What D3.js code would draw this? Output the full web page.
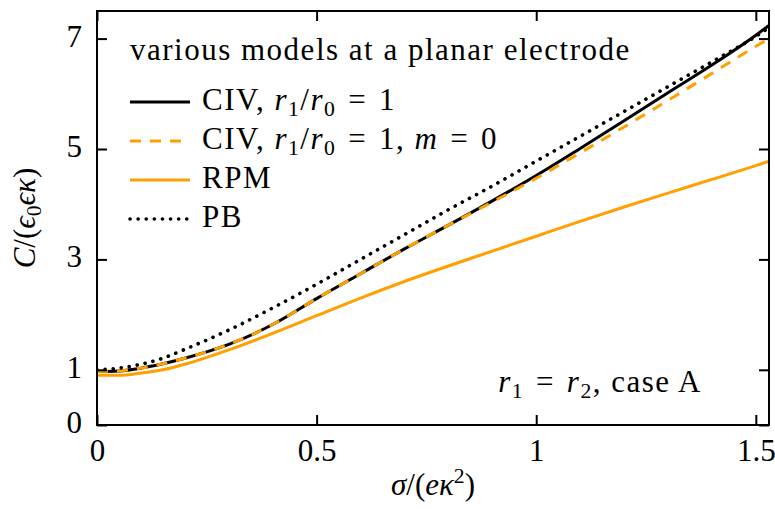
<!DOCTYPE html>
<html>
<head>
<meta charset="utf-8">
<script src="https://cdn.jsdelivr.net/npm/d3@7"></script>
<style>
  html, body { margin: 0; padding: 0; background: #fff; }
  svg { display: block; }
  text { font-family: "Liberation Serif", "DejaVu Serif", serif; fill: #000; }
</style>
</head>
<body>
<svg id="chart" width="775" height="509"></svg>
<script>
// Surface charge density sigma/(e kappa^2) at which each curve is sampled
const sigma = [0, 0.05, 0.1, 0.15, 0.2, 0.3, 0.4, 0.5, 0.6, 0.7, 0.8, 0.9, 1.0, 1.1, 1.2, 1.3, 1.4, 1.5, 1.53];

// Differential capacitance C/(eps0 eps kappa) for each model
const civ   = [0.97, 0.98, 1.03, 1.11, 1.21, 1.46, 1.82, 2.29, 2.74, 3.19, 3.62, 4.06, 4.52, 5.01, 5.51, 6.02, 6.52, 7.06, 7.24];
const civM0 = [0.97, 0.98, 1.03, 1.11, 1.21, 1.46, 1.82, 2.29, 2.74, 3.19, 3.62, 4.04, 4.47, 4.93, 5.40, 5.88, 6.37, 6.86, 7.00];
const rpm   = [0.90, 0.90, 0.94, 1.00, 1.10, 1.36, 1.66, 1.98, 2.30, 2.60, 2.88, 3.15, 3.42, 3.69, 3.95, 4.20, 4.45, 4.70, 4.78];
const pb    = [1.00, 1.03, 1.10, 1.21, 1.37, 1.72, 2.12, 2.55, 3.00, 3.45, 3.90, 4.33, 4.78, 5.23, 5.68, 6.13, 6.58, 7.04, 7.20];

const xTicks = [0, 0.5, 1, 1.5];
const yTicks = [0, 1, 3, 5, 7];
const xDomain = [0, 1.53];
const yDomain = [0, 7.5];

const ORANGE = "#ffa000";
const FS = 31;
const EQ = "\u2004=\u2004"; // equals sign with math-style spacing

const svg = d3.select("#chart");
const margin = { left: 97, right: 6, top: 11, bottom: 84 };
const W = 775, H = 509;

const x = d3.scaleLinear().domain(xDomain).range([margin.left, W - margin.right]);
const y = d3.scaleLinear().domain(yDomain).range([H - margin.bottom, margin.top]);

// Rich text helper: segments may be italic, subscript or superscript
function richText(sel, segs) {
  let shift = 0;
  segs.forEach(s => {
    const target = s.sub ? 6 : s.sup ? -12 : 0;
    const t = sel.append("tspan").text(s.t);
    if (target !== shift) t.attr("dy", target - shift);
    shift = target;
    if (s.i) t.attr("font-style", "italic");
    if (s.sub || s.sup) t.attr("font-size", FS * 0.7);
  });
  return sel;
}

// Curves
const line = d3.line().x(d => x(d[0])).y(d => y(d[1])).curve(d3.curveMonotoneX);
const DASH = "11,9", DOT = "0.1,8";
const series = [
  { vals: rpm,   color: ORANGE, dash: null, cap: "butt",  w: 3 },
  { vals: civ,   color: "#000", dash: null, cap: "butt",  w: 3 },
  { vals: civM0, color: ORANGE, dash: DASH, cap: "butt",  w: 3 },
  { vals: pb,    color: "#000", dash: DOT,  cap: "round", w: 3.6 }
];

svg.append("clipPath").attr("id", "plotclip")
  .append("rect")
  .attr("x", x(xDomain[0])).attr("y", y(yDomain[1]))
  .attr("width", x(xDomain[1]) - x(xDomain[0]))
  .attr("height", y(yDomain[0]) - y(yDomain[1]));

const plot = svg.append("g").attr("clip-path", "url(#plotclip)");
series.forEach(s => {
  plot.append("path")
    .datum(sigma.map((v, i) => [v, s.vals[i]]))
    .attr("d", line)
    .attr("fill", "none")
    .attr("stroke", s.color)
    .attr("stroke-width", s.w)
    .attr("stroke-linecap", s.cap)
    .attr("stroke-dasharray", s.dash);
});

// Axes with inward ticks on all four sides
const TICK = 10;
const gx = svg.append("g").attr("transform", `translate(0,${y(0)})`)
  .call(d3.axisBottom(x).tickValues(xTicks).tickFormat(d3.format("")).tickSizeInner(-TICK).tickSizeOuter(0).tickPadding(14));
const gxTop = svg.append("g").attr("transform", `translate(0,${y(yDomain[1])})`)
  .call(d3.axisTop(x).tickValues(xTicks).tickFormat("").tickSizeInner(-TICK).tickSizeOuter(0));
const gy = svg.append("g").attr("transform", `translate(${x(0)},0)`)
  .call(d3.axisLeft(y).tickValues(yTicks).tickFormat(d3.format("")).tickSizeInner(-TICK).tickSizeOuter(0).tickPadding(15));
const gyRight = svg.append("g").attr("transform", `translate(${x(xDomain[1])},0)`)
  .call(d3.axisRight(y).tickValues(yTicks).tickFormat("").tickSizeInner(-TICK).tickSizeOuter(0));

[gx, gxTop, gy, gyRight].forEach(g => {
  g.select(".domain").remove();
  g.selectAll(".tick line").attr("stroke", "#000").attr("stroke-width", 2);
  g.selectAll(".tick text")
    .attr("font-family", "'Liberation Serif', 'DejaVu Serif', serif")
    .attr("font-size", FS).attr("fill", "#000");
});
gy.selectAll(".tick text").attr("dy", "0.24em");

// Plot frame
svg.append("rect")
  .attr("x", x(xDomain[0])).attr("y", y(yDomain[1]))
  .attr("width", x(xDomain[1]) - x(xDomain[0]))
  .attr("height", y(yDomain[0]) - y(yDomain[1]))
  .attr("fill", "none").attr("stroke", "#000").attr("stroke-width", 2);

// Axis titles
richText(svg.append("text")
  .attr("x", (x(xDomain[0]) + x(xDomain[1])) / 2).attr("y", 495)
  .attr("text-anchor", "middle").attr("font-size", FS),
  [{ t: "σ", i: true }, { t: "/(" }, { t: "eκ", i: true }, { t: "2", sup: true }, { t: ")" }]);

richText(svg.append("text")
  .attr("transform", `translate(35,${(y(0) + y(yDomain[1])) / 2}) rotate(-90)`)
  .attr("text-anchor", "middle").attr("font-size", FS),
  [{ t: "C", i: true }, { t: "/(" }, { t: "ϵ", i: true }, { t: "0", sub: true }, { t: "ϵκ", i: true }, { t: ")" }]);

// Legend
const LS = 1.5; // letter spacing for running text
svg.append("text").attr("x", 130).attr("y", 60).attr("font-size", FS)
  .attr("letter-spacing", LS)
  .text("various models at a planar electrode");

const legend = [
  { color: "#000", dash: null, cap: "butt", w: 3,
    segs: [{ t: "CIV, " }, { t: "r", i: true }, { t: "1", sub: true }, { t: "/" }, { t: "r", i: true }, { t: "0", sub: true }, { t: EQ + "1" }] },
  { color: ORANGE, dash: DASH, cap: "butt", w: 3,
    segs: [{ t: "CIV, " }, { t: "r", i: true }, { t: "1", sub: true }, { t: "/" }, { t: "r", i: true }, { t: "0", sub: true }, { t: EQ + "1, " }, { t: "m", i: true }, { t: EQ + "0" }] },
  { color: ORANGE, dash: null, cap: "butt", w: 3, segs: [{ t: "RPM" }] },
  { color: "#000", dash: DOT, cap: "round", w: 3.6, segs: [{ t: "PB" }] }
];
legend.forEach((L, i) => {
  const ly = 102 + i * 39;
  svg.append("line")
    .attr("x1", 130).attr("x2", 190).attr("y1", ly).attr("y2", ly)
    .attr("stroke", L.color).attr("stroke-width", L.w)
    .attr("stroke-linecap", L.cap).attr("stroke-dasharray", L.dash);
  richText(svg.append("text").attr("x", 202).attr("y", ly + 8)
    .attr("font-size", FS).attr("letter-spacing", LS), L.segs);
});

// Annotation
richText(svg.append("text").attr("x", 702).attr("y", 392)
  .attr("text-anchor", "end").attr("font-size", FS).attr("letter-spacing", LS),
  [{ t: "r", i: true }, { t: "1", sub: true }, { t: EQ }, { t: "r", i: true }, { t: "2", sub: true }, { t: ", case A" }]);
</script>
</body>
</html>
